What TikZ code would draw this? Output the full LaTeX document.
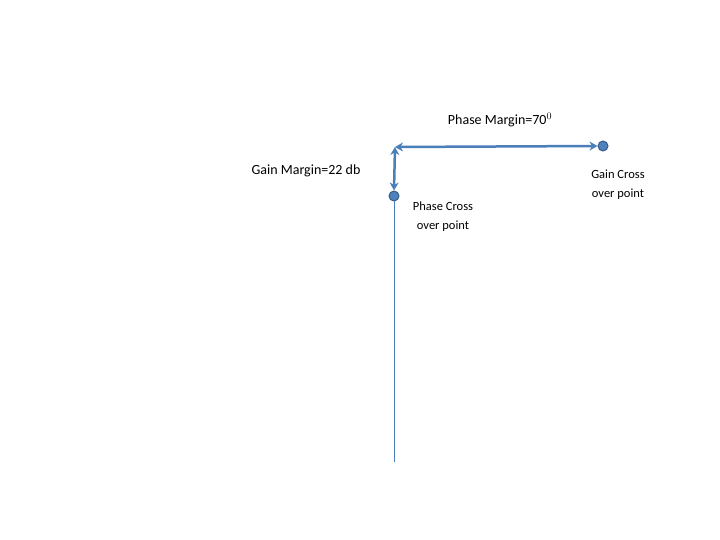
\documentclass[tikz,border=0pt]{standalone}
\usepackage{fontspec}
\setmainfont{Carlito}
\usetikzlibrary{arrows.meta}
\definecolor{ln}{RGB}{74,126,187}
\definecolor{dotf}{RGB}{79,129,189}
\definecolor{dotd}{RGB}{56,93,138}
\tikzset{
  dot/.style={circle,fill=dotf,draw=dotd,line width=1pt,inner sep=0pt,minimum size=10pt},
  arr/.style={draw=ln,line width=2.5pt,{Stealth[length=8pt,width=9pt]}-{Stealth[length=8pt,width=9pt]}},
  lbl/.style={font=\fontsize{14}{16}\selectfont},
  sm/.style={font=\fontsize{12.5}{19}\selectfont,align=center}
}
\begin{document}
\begin{tikzpicture}[x=1pt,y=-1pt]
\useasboundingbox (0,0) rectangle (720,540);
\node[dot] (g) at (603,146) {};
\node[dot] (p) at (394,196) {};
\coordinate (c) at (395,147);
\coordinate (bot) at (394,462);
\draw[ln,line width=0.8pt] (p) -- (bot);
\draw[arr] (c) -- (g.west);
\draw[arr] (c) -- (p.north);
\node[lbl] (pm) at (500,120) {Phase Margin=70$^0$};
\node[lbl] (gm) at (306,171) {Gain Margin=22 db};
\node[sm] (pc) at (443,217) {Phase Cross\\over point};
\node[sm] (gc) at (618,185) {Gain Cross\\over point};
\end{tikzpicture}
\end{document}
